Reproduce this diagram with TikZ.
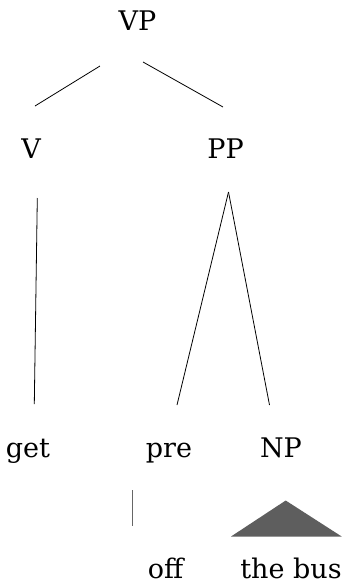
\documentclass[tikz,border=0pt]{standalone}
\usepackage{fontspec}
\setmainfont{DejaVu Serif}

\begin{document}
\begin{tikzpicture}[
    x=1pt, y=-1pt,
    cat/.style={anchor=base, inner sep=0pt, font=\fontsize{27}{32}\selectfont},
    branch/.style={line width=0.8pt},
    leafline/.style={line width=1pt, draw=black!60},
    roof/.style={fill=black!63, draw=none}
]
    \useasboundingbox (0,0) rectangle (345,584);

    % Root
    \node[cat] (vp) at (137.5,30) {VP};

    % Daughters of VP
    \node[cat] (v) at (31,158) {V};
    \node[cat] (pp) at (225.5,158) {PP};

    % Terminals and lower phrases
    \node[cat] (get) at (28,457) {get};
    \node[cat] (pre) at (169,457) {pre};
    \node[cat] (np) at (281,457) {NP};

    % Words
    \node[cat] (off) at (165.5,578) {off};
    \node[cat] (thebus) at (291,578) {the bus};

    % Branch ends
    \coordinate (vp-l) at (100,66);
    \coordinate (vp-r) at (143,62);
    \coordinate (v-top) at (35,106);
    \coordinate (pp-top) at (223,107);
    \coordinate (v-low) at (37.3,198);
    \coordinate (get-top) at (34.3,404);
    \coordinate (pp-low) at (228.5,192);
    \coordinate (pre-top) at (177,405);
    \coordinate (np-top) at (269.5,405);
    \coordinate (pre-low) at (132.7,490);
    \coordinate (off-top) at (132.7,526);
    \coordinate (np-low) at (285.7,500.5);
    \coordinate (roof-l) at (231,536.5);
    \coordinate (roof-r) at (341.7,536.5);

    % Branches
    \draw[branch] (vp-l) -- (v-top);
    \draw[branch] (vp-r) -- (pp-top);
    \draw[branch] (v-low) -- (get-top);
    \draw[branch] (pp-low) -- (pre-top);
    \draw[branch] (pp-low) -- (np-top);
    \draw[leafline] (pre-low) -- (off-top);

    % Roof over the NP
    \fill[roof] (np-low) -- (roof-l) -- (roof-r) -- cycle;

\end{tikzpicture}
\end{document}
